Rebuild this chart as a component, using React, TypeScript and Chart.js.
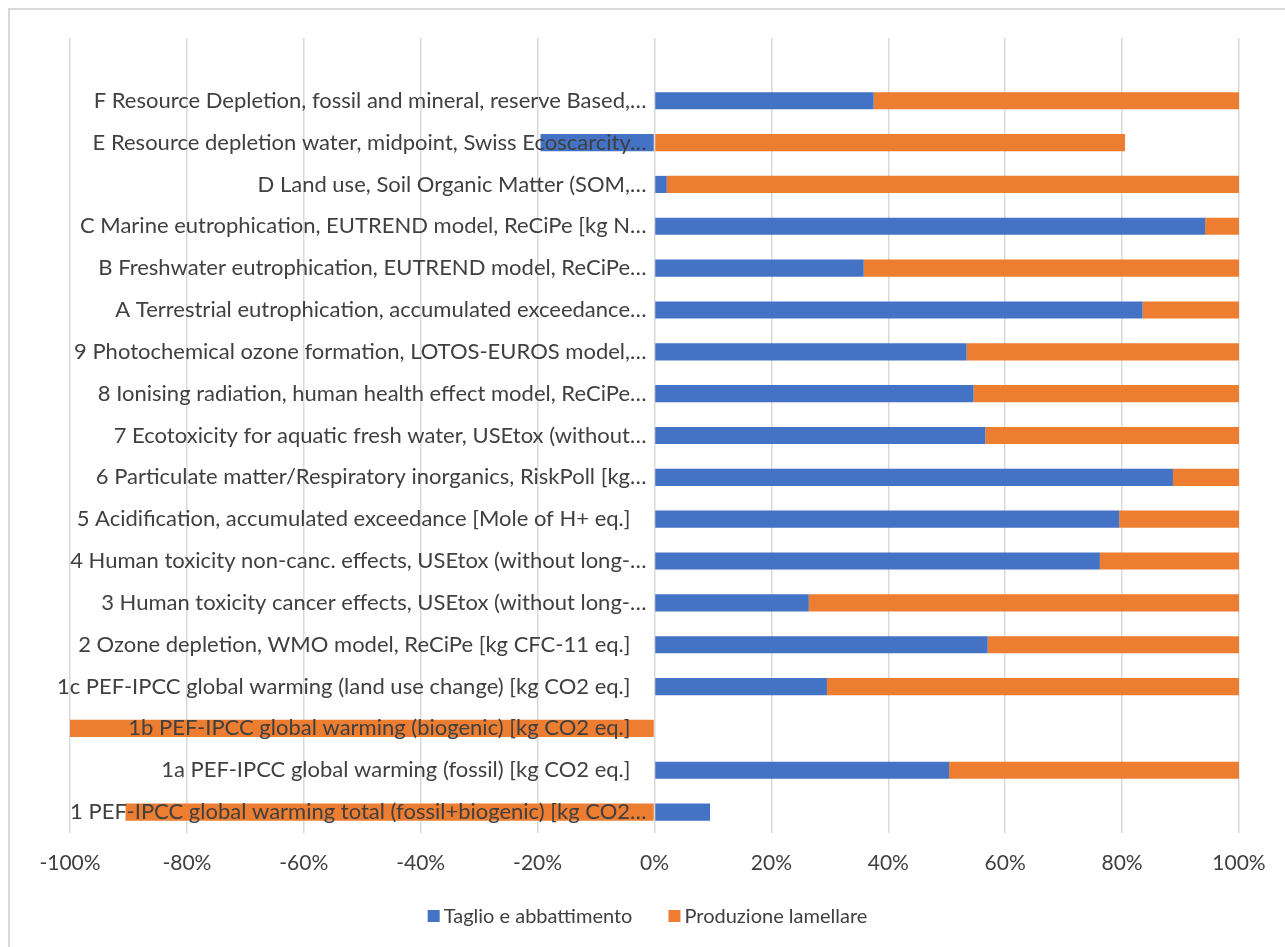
import React, { useEffect, useRef } from "react";
import { Chart, registerables } from "chart.js";

Chart.register(...registerables);

// Categories, top to bottom (first entry is the empty top slot of the axis)
const categories: string[] = [
  "",
  "F Resource Depletion, fossil and mineral, reserve Based,…",
  "E Resource depletion water, midpoint, Swiss Ecoscarcity…",
  "D Land use, Soil Organic Matter (SOM,…",
  "C Marine eutrophication, EUTREND model, ReCiPe [kg N…",
  "B Freshwater eutrophication, EUTREND model, ReCiPe…",
  "A Terrestrial eutrophication, accumulated exceedance…",
  "9 Photochemical ozone formation, LOTOS-EUROS model,…",
  "8 Ionising radiation, human health effect model, ReCiPe…",
  "7 Ecotoxicity for aquatic fresh water, USEtox (without…",
  "6 Particulate matter/Respiratory inorganics, RiskPoll [kg…",
  "5 Acidification, accumulated exceedance [Mole of H+ eq.]",
  "4 Human toxicity non-canc. effects, USEtox (without long-…",
  "3 Human toxicity cancer effects, USEtox (without long-…",
  "2 Ozone depletion, WMO model, ReCiPe [kg CFC-11 eq.]",
  "1c PEF-IPCC global warming (land use change) [kg CO2 eq.]",
  "1b PEF-IPCC global warming (biogenic) [kg CO2 eq.]",
  "1a PEF-IPCC global warming (fossil) [kg CO2 eq.]",
  "1 PEF-IPCC global warming total (fossil+biogenic) [kg CO2…",
];

// Shares in percent (100% stacked, absolute sum = 100)
const taglio: (number | null)[] = [
  null, 37.5, -19.5, 2.1, 94.2, 35.8, 83.5, 53.4, 54.6, 56.6, 88.7, 79.5, 76.2, 26.4, 57.0, 29.5, 0, 50.4, 9.5,
];
const produzione: (number | null)[] = [
  null, 62.5, 80.5, 97.9, 5.8, 64.2, 16.5, 46.6, 45.4, 43.4, 11.3, 20.5, 23.8, 73.6, 43.0, 70.5, -100, 49.6, -90.5,
];

const seriesNames = ["Taglio e abbattimento", "Produzione lamellare"];
const seriesColors = ["#4472C4", "#ED7D31"];
const xTicks = [-100, -80, -60, -40, -20, 0, 20, 40, 60, 80, 100];

const FONT = "Lato";
const TEXT = "#404040";

const categoryLabelPlugin = {
  id: "categoryLabels",
  afterDatasetsDraw(chart: any) {
    const { ctx, scales } = chart;
    const x0 = scales.x.getPixelForValue(0);
    ctx.save();
    ctx.font = `22px ${FONT}`;
    ctx.fillStyle = TEXT;
    ctx.textAlign = "right";
    ctx.textBaseline = "middle";
    categories.forEach((label, i) => {
      if (!label) return;
      const y = scales.y.getPixelForValue(i);
      const gap = label.endsWith("…") ? 8 : 24;
      ctx.fillText(label, x0 - gap, y);
    });
    ctx.restore();
  },
};

const legendPlugin = {
  id: "customLegend",
  afterDraw(chart: any) {
    const { ctx, width } = chart;
    const box = 12;
    const boxGap = 4;
    const itemGap = 36;
    const cy = 906;
    ctx.save();
    ctx.font = `20px ${FONT}`;
    const widths = seriesNames.map((n) => ctx.measureText(n).width);
    const total = widths.reduce((a, w) => a + box + boxGap + w, 0) + itemGap * (seriesNames.length - 1);
    let x = (width - total) / 2;
    ctx.textBaseline = "middle";
    ctx.textAlign = "left";
    seriesNames.forEach((n, i) => {
      ctx.fillStyle = seriesColors[i];
      ctx.fillRect(x, cy - box / 2, box, box);
      x += box + boxGap;
      ctx.fillStyle = TEXT;
      ctx.fillText(n, x, cy + 1);
      x += widths[i] + itemGap;
    });
    ctx.restore();
  },
};

export default function App() {
  const ref = useRef<HTMLCanvasElement | null>(null);

  useEffect(() => {
    if (!ref.current) return;
    const chart = new Chart(ref.current, {
      type: "bar",
      data: {
        labels: categories,
        datasets: [
          {
            label: seriesNames[0],
            data: taglio,
            backgroundColor: seriesColors[0],
            borderWidth: 0,
          },
          {
            label: seriesNames[1],
            data: produzione,
            backgroundColor: seriesColors[1],
            borderWidth: 0,
          },
        ],
      },
      options: {
        indexAxis: "y",
        animation: false,
        responsive: false,
        maintainAspectRatio: false,
        datasets: { bar: { barPercentage: 0.41, categoryPercentage: 1 } },
        layout: { padding: { left: 60, right: 46, top: 28, bottom: 52 } },
        scales: {
          x: {
            stacked: true,
            min: -100,
            max: 100,
            afterBuildTicks: (scale: any) => {
              scale.ticks = xTicks.map((v) => ({ value: v }));
            },
            afterFit: (scale: any) => {
              scale.height = 62;
            },
            grid: { color: "#d9d9d9", lineWidth: 1.5, drawTicks: false },
            border: { display: false },
            ticks: {
              padding: 18,
              color: TEXT,
              font: { family: FONT, size: 21 },
              callback: (v: any) => `${v}%`,
            },
          },
          y: {
            stacked: true,
            display: false,
          },
        },
        plugins: {
          legend: { display: false },
          tooltip: { enabled: false },
        },
      },
      plugins: [categoryLabelPlugin, legendPlugin],
    });
    return () => chart.destroy();
  }, []);

  return (
    <div
      style={{
        position: "absolute",
        left: 8,
        top: 8,
        width: 1275,
        height: 937,
        borderTop: "2px solid #d9d9d9",
        borderLeft: "2px solid #d9d9d9",
        background: "#fff",
      }}
    >
      <canvas ref={ref} width={1275} height={937} style={{ display: "block" }} />
    </div>
  );
}
